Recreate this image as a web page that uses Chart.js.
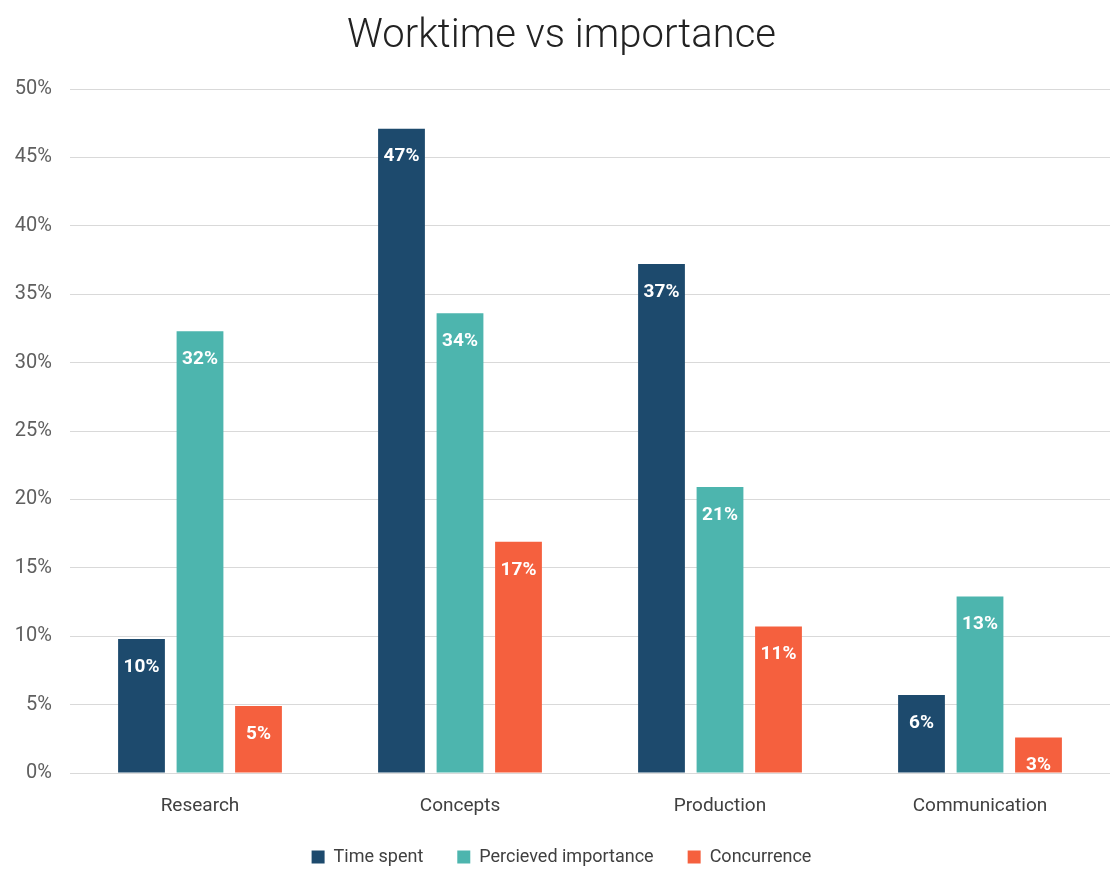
<!DOCTYPE html>
<html>
<head>
<meta charset="utf-8">
<script src="https://cdn.jsdelivr.net/npm/chart.js@4/dist/chart.umd.min.js"></script>
<style>
  body { margin: 0; background: #fff; }
  #wrap { width: 1110px; height: 869px; }
</style>
</head>
<body>
<div id="wrap"><canvas id="chart" width="1110" height="869"></canvas></div>
<script>
const categories = ["Research", "Concepts", "Production", "Communication"];
const timeSpent = [9.8, 47.1, 37.2, 5.7];
const perceivedImportance = [32.3, 33.6, 20.9, 12.9];
const concurrence = [4.9, 16.9, 10.7, 2.6];

// white % label near the top of each bar
const barLabels = {
    id: 'barLabels',
    afterDatasetsDraw(chart) {
        const ctx = chart.ctx;
        ctx.save();
        ctx.fillStyle = '#ffffff';
        ctx.font = 'bold 19px Roboto';
        ctx.textAlign = 'center';
        ctx.textBaseline = 'middle';
        chart.data.datasets.forEach((ds, i) => {
            chart.getDatasetMeta(i).data.forEach((bar, j) => {
                ctx.fillText(Math.round(ds.data[j]) + '%', bar.x, bar.y + 28);
            });
        });
        ctx.restore();
    }
};

// wide gaps between legend items, but a short legend box near the bottom
const legendTweak = {
    id: 'legendTweak',
    beforeInit(chart) {
        const legend = chart.legend;
        const fit = legend.fit;
        legend.fit = function () {
            fit.call(this);
            this.height = 26;
        };
        legend.draw = function () {
            if (!this.options.display) return;
            chart.ctx.save();
            chart.ctx.translate(0, -29);
            this._draw();
            chart.ctx.restore();
        };
    }
};

new Chart(document.getElementById('chart').getContext('2d'), {
    type: 'bar',
    data: {
        labels: categories,
        datasets: [
            { label: 'Time spent', data: timeSpent, backgroundColor: '#1d4a6d' },
            { label: 'Percieved importance', data: perceivedImportance, backgroundColor: '#4db5ae' },
            { label: 'Concurrence', data: concurrence, backgroundColor: '#f5603e' }
        ]
    },
    options: {
        responsive: false,
        animation: false,
        devicePixelRatio: 1,
        layout: { padding: { left: 13, right: 0, top: 0, bottom: 0 } },
        datasets: {
            bar: { barPercentage: 0.8, categoryPercentage: 0.675 }
        },
        scales: {
            x: {
                grid: { display: false, drawTicks: false },
                border: { display: false },
                ticks: { color: '#404040', font: { family: 'Roboto', size: 19 }, padding: 22 },
                afterFit(scale) { scale.height = 70; }
            },
            y: {
                min: 0,
                max: 50,
                ticks: {
                    stepSize: 5,
                    color: '#5f5f5f',
                    font: { family: 'Roboto', size: 20 },
                    padding: 18,
                    callback: v => v + '%'
                },
                grid: { color: '#d9d9d9', drawTicks: false },
                border: { display: false },
                afterFit(scale) { scale.width = 57; }
            }
        },
        plugins: {
            title: {
                display: true,
                text: 'Worktime vs importance',
                color: '#222222',
                font: { family: 'Roboto', size: 40, weight: '300' },
                padding: { top: 13, bottom: 28 }
            },
            legend: {
                position: 'bottom',
                labels: {
                    color: '#404040',
                    font: { family: 'Roboto', size: 18 },
                    boxWidth: 13,
                    boxHeight: 13,
                    padding: 34
                }
            },
            tooltip: { enabled: false }
        }
    },
    plugins: [barLabels, legendTweak]
});
</script>
</body>
</html>
